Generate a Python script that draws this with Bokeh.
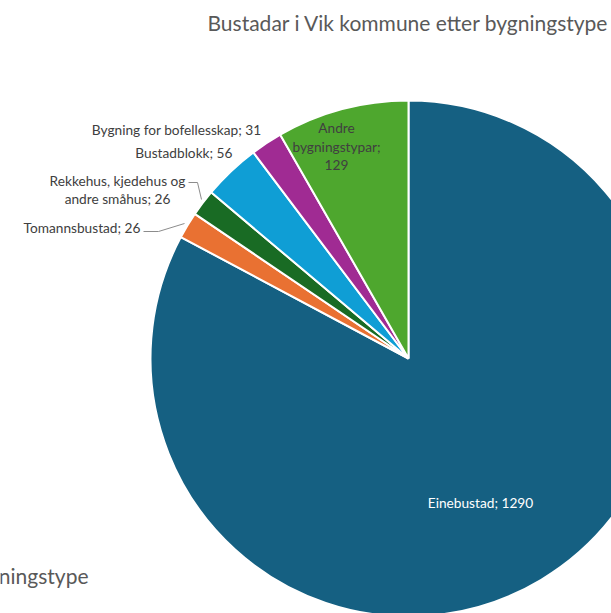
import math
from bokeh.plotting import figure
from bokeh.models import Range1d, ColumnDataSource
from bokeh.core.properties import value
from bokeh.embed import file_html
from bokeh.resources import INLINE

# ---- data ----
categories = ["Einebustad", "Tomannsbustad", "Rekkehus, kjedehus og andre småhus",
              "Bustadblokk", "Bygning for bofellesskap", "Andre bygningstypar"]
counts = [1290, 26, 26, 56, 31, 129]
colors = ["#156082", "#E97132", "#196B24", "#0F9ED5", "#A02B93", "#4EA72E"]
title_text = "Bustadar i Vik kommune etter bygningstype"
legend_title = "Bygningstype"

W, H = 611, 613
def Y(sy):  # screen y -> data y
    return H - sy

p = figure(width=W, height=H, output_backend="svg", toolbar_location=None,
           x_range=Range1d(0, W), y_range=Range1d(0, H),
           min_border=0, outline_line_color=None)
p.axis.visible = False
p.grid.visible = False

cx, cy, r = 408, Y(358), 258
total = sum(counts)
starts, ends = [], []
a = math.pi / 2
for c in counts:
    th = 2 * math.pi * c / total
    starts.append(a)
    ends.append(a - th)
    a -= th

src = ColumnDataSource(dict(start=starts, end=ends, color=colors))
p.wedge(x=cx, y=cy, radius=r, start_angle="start", end_angle="end", direction="clock",
        fill_color="color", line_color="white", line_width=2, source=src)

font = value("Lato")
lab_col = "#404040"
fs = "13.7px"

def txt(x, sy, s, align="left", color=lab_col, size=fs, style="normal"):
    p.text(x=[x], y=[Y(sy)], text=[s], text_font=font, text_font_size=size,
           text_color=color, text_align=align, text_baseline="middle", text_font_style=style)

txt(207, 22, title_text, size="21px", color="#595959")
txt(88, 575, legend_title, align="right", size="21px", color="#595959")

txt(480, 502, f"{categories[0]}; {counts[0]}", align="center", color="white")
txt(140, 227, f"{categories[1]}; {counts[1]}", align="right")
txt(117, 180, "Rekkehus, kjedehus og", align="center")
txt(117, 198, f"andre småhus; {counts[2]}", align="center")
txt(232, 152, f"{categories[3]}; {counts[3]}", align="right")
txt(261, 129, f"{categories[4]}; {counts[4]}", align="right")
txt(336, 127, "Andre", align="center")
txt(336, 146, "bygningstypar;", align="center")
txt(336, 164, f"{counts[5]}", align="center")

# leader lines
p.line(x=[188, 197, 201], y=[Y(182), Y(182), Y(199)], line_color="#8c8c8c", line_width=1)
p.line(x=[143, 158, 184], y=[Y(231), Y(231), Y(223)], line_color="#8c8c8c", line_width=1)

open("out.html", "w").write(file_html(p, INLINE))
